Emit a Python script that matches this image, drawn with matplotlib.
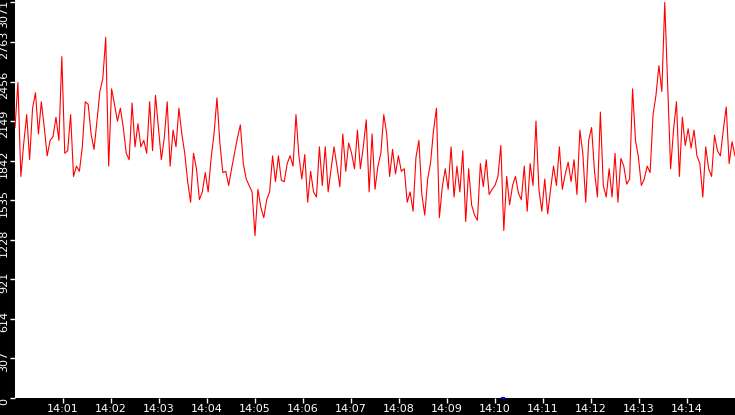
import numpy as np
import pandas as pd
import matplotlib
matplotlib.use("Agg")
import matplotlib.pyplot as plt
import matplotlib.dates as mdates
import matplotlib.transforms as mtrans

# samples, 14:00:00 -> 14:15:00
seg1 = [2100, 2450, 1720, 1980, 2200, 1850, 2250, 2370, 2050, 2300, 2100, 1880,
        2000, 2030, 2180, 2000, 2650, 1900, 1920, 2200, 1720, 1800, 1760, 1950,
        2300, 2280, 2050, 1930, 2150, 2380, 2480, 2800, 1800, 2400, 2280, 2150]
seg2 = [2250, 2100, 1900, 1850, 2290, 1950, 2130, 1950, 2000, 1900, 2300, 1920,
        2350, 2100, 1850, 2020, 2300, 1800, 2080, 1950, 2250, 2050, 1900, 1680,
        1520, 1900, 1780, 1540, 1600, 1750, 1600, 1860, 2050, 2330, 1980, 1750]
seg3 = [1760, 1650, 1780, 1900, 2020, 2120, 1820, 1700, 1650, 1600, 1260, 1620,
        1480, 1400, 1540, 1600, 1880, 1680, 1880, 1690, 1680, 1820, 1880, 1800,
        2200, 1880, 1700, 1890, 1520, 1760, 1600, 1560, 1950, 1650, 1950, 1600]
seg4 = [1780, 1950, 1800, 1640, 2050, 1760, 1980, 1900, 1780, 2080, 1780, 1950,
        2160, 1600, 2050, 1620, 1800, 1900, 2200, 2050, 1720, 1930, 1740, 1880,
        1760, 1780, 1520, 1600, 1450, 1870, 2000, 1580, 1420, 1700, 1830, 2080]
seg5 = [2250, 1400, 1640, 1780, 1620, 1950, 1560, 1800, 1600, 1920, 1370, 1780,
        1500, 1420, 1380, 1820, 1640, 1850, 1580, 1620, 1650, 1720, 1960, 1300,
        1720, 1500, 1650, 1720, 1590, 1540, 1800, 1450, 1820, 1650, 2150, 1620]
seg6 = [1450, 1700, 1430, 1620, 1800, 1650, 1950, 1620, 1740, 1830, 1680, 1850,
        1580, 2080, 1900, 1520, 2000, 2100, 1760, 1560, 2220, 1650, 1560, 1780,
        1560, 1900, 1520, 1860, 1800, 1660, 1700, 2400, 2000, 1870, 1650, 1700]
seg7 = [1800, 1750, 2200, 2350, 2580, 2380, 3071, 2420, 1780, 2080, 2300, 1720,
        2180, 1960, 2090, 1940, 2080, 1880, 1820, 1560, 1950, 1780, 1720, 2040,
        1920, 1880, 2080, 2260, 1820, 1990, 1880]
values = seg1 + seg2 + seg3 + seg4 + seg5 + seg6 + seg7

start = pd.Timestamp("2024-01-01 14:00:00")
end = pd.Timestamp("2024-01-01 14:15:00")
times = pd.date_range(start, end, periods=len(values))

event_times = [pd.Timestamp("2024-01-01 14:10:10")]
ytick_values = [0, 307, 614, 921, 1228, 1535, 1842, 2149, 2456, 2763, 3071]
ymax = 3090

fig = plt.figure(figsize=(7.35, 4.15), dpi=100, facecolor="black")
ax = fig.add_axes([15 / 735, 17 / 415, 720 / 735, 398 / 415])
ax.set_facecolor("white")

ax.plot(times, values, color="red", linewidth=0.8)
ax.plot(event_times, [0] * len(event_times), marker="_", color="blue",
        markersize=3, markeredgewidth=1.5, linestyle="none", clip_on=False)

ax.set_xlim(start, end)
ax.set_ylim(0, ymax)

ax.xaxis.set_major_locator(mdates.MinuteLocator(byminute=range(1, 15)))
ax.xaxis.set_major_formatter(mdates.DateFormatter("%H:%M"))
ax.set_yticks(ytick_values)
ax.set_yticklabels([str(v) for v in ytick_values], rotation=90, va="center")

ax.tick_params(axis="both", colors="white", labelsize=8, length=3.8,
               width=1, direction="out", pad=0.5)

# labels sit a little below their ticks; the top one is kept inside the figure
down = mtrans.ScaledTranslation(0, -3 / 100, fig.dpi_scale_trans)
up = mtrans.ScaledTranslation(0, 2.5 / 100, fig.dpi_scale_trans)
labels = ax.get_yticklabels()
for lab in labels[:-1]:
    lab.set_transform(lab.get_transform() + down)
labels[-1].set_va("top")
labels[-1].set_transform(labels[-1].get_transform() + up)

for s in ax.spines.values():
    s.set_visible(False)

fig.savefig("out.png", dpi=100, facecolor="black")
